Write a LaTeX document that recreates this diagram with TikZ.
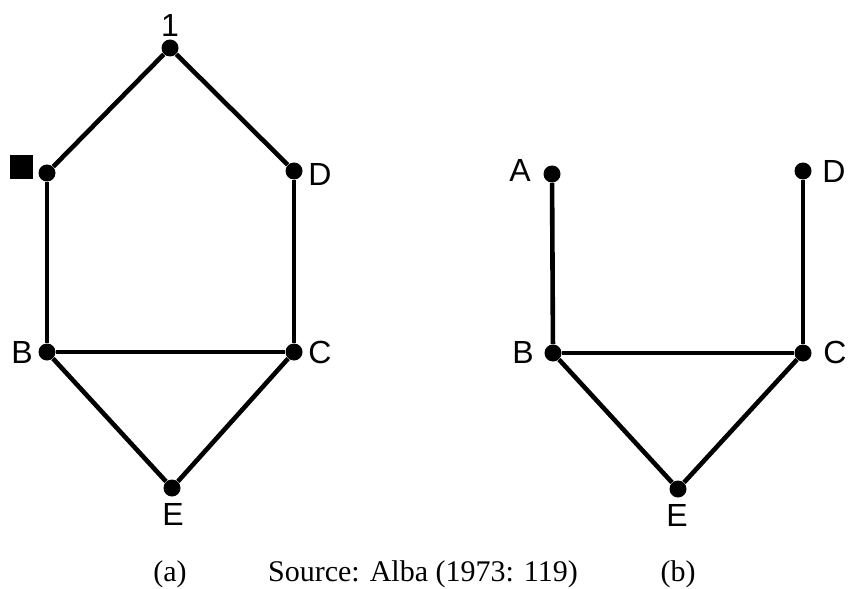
\documentclass[tikz,border=0pt]{standalone}
\usepackage{fontspec}
\setmainfont{Liberation Serif}
\newfontfamily\lblfont{Liberation Sans}
\usetikzlibrary{positioning}

\begin{document}
\begin{tikzpicture}[
    x=0.5pt, y=-0.5pt,
    dot/.style    = {circle, fill=black, inner sep=0pt, minimum size=8.5pt},
    sqbox/.style  = {rectangle, fill=black, inner sep=0pt, minimum size=11.5pt},
    lbl/.style    = {font=\fontsize{16}{16}\lblfont, inner sep=0pt},
    capt/.style   = {font=\fontsize{15}{16}\selectfont, inner sep=0pt, anchor=base},
    edge/.style   = {line width=2.3pt, draw=black}
  ]
    \useasboundingbox (0,0) rectangle (849,588);

    % graph (a)
    \node[dot] (a1) at (170,48)  {};
    \node[dot] (aA) at (47,173)  {};
    \node[dot] (aD) at (294,171) {};
    \node[dot] (aB) at (47,352)  {};
    \node[dot] (aC) at (294,352) {};
    \node[dot] (aE) at (172,488) {};

    \node[lbl]   (l1)  at (170,25)  {1};
    \node[sqbox] (lsq) at (21,167)  {};
    \node[lbl]   (laD) at (320,174) {D};
    \node[lbl]   (laB) at (22,352)  {B};
    \node[lbl]   (laC) at (320,352) {C};
    \node[lbl]   (laE) at (173,514) {E};

    \draw[edge] (a1) -- (aA);
    \draw[edge] (a1) -- (aD);
    \draw[edge] (aA) -- (aB);
    \draw[edge] (aD) -- (aC);
    \draw[edge] (aB) -- (aC);
    \draw[edge] (aB) -- (aE);
    \draw[edge] (aC) -- (aE);

    % graph (b)
    \node[dot] (bA) at (552,174) {};
    \node[dot] (bD) at (803,171) {};
    \node[dot] (bB) at (553,353) {};
    \node[dot] (bC) at (803,353) {};
    \node[dot] (bE) at (678,489) {};

    \node[lbl] (lbA) at (520,170) {A};
    \node[lbl] (lbD) at (834,171) {D};
    \node[lbl] (lbB) at (523,352) {B};
    \node[lbl] (lbC) at (835,352) {C};
    \node[lbl] (lbE) at (677,515) {E};

    \draw[edge] (bA) -- (bB);
    \draw[edge] (bD) -- (bC);
    \draw[edge] (bB) -- (bC);
    \draw[edge] (bB) -- (bE);
    \draw[edge] (bC) -- (bE);

    % captions
    \node[capt] (capa) at (170,581) {(a)};
    \node[capt] (src)  at (423,581) {Source: Alba (1973: 119)};
    \node[capt] (capb) at (678,581) {(b)};
  \end{tikzpicture}
\end{document}
